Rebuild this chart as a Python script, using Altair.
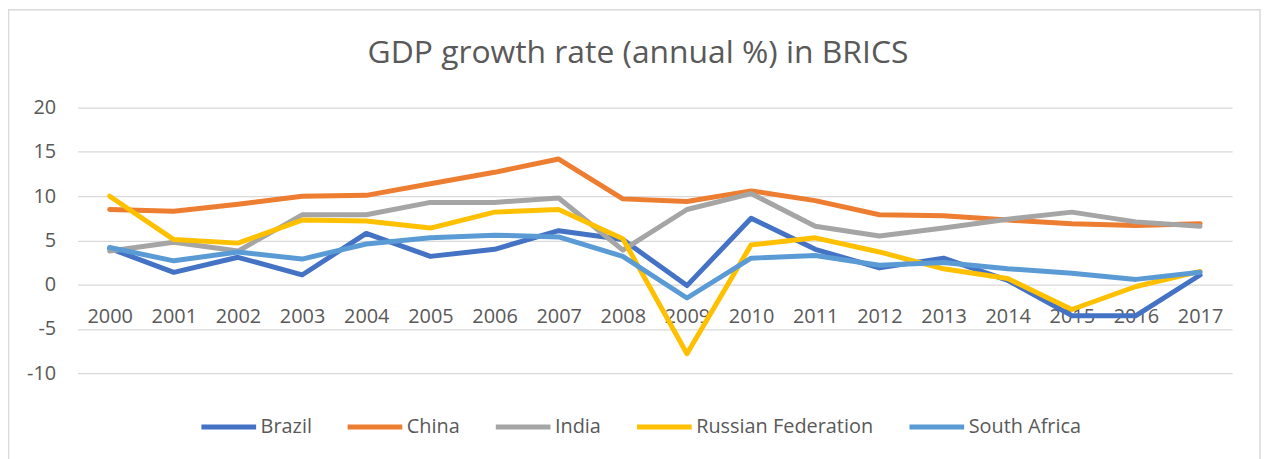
import altair as alt
import pandas as pd

years = [str(y) for y in range(2000, 2018)]
series_names = ["Brazil", "China", "India", "Russian Federation", "South Africa"]
colors = ["#4472C4", "#ED7D31", "#A5A5A5", "#FFC000", "#5B9BD5"]

brazil = [4.1, 1.4, 3.1, 1.1, 5.8, 3.2, 4.0, 6.1, 5.1, -0.1, 7.5, 4.0, 1.9, 3.0, 0.5, -3.5, -3.5, 1.1]
china = [8.5, 8.3, 9.1, 10.0, 10.1, 11.4, 12.7, 14.2, 9.7, 9.4, 10.6, 9.5, 7.9, 7.8, 7.3, 6.9, 6.7, 6.9]
india = [3.8, 4.8, 3.8, 7.9, 7.9, 9.3, 9.3, 9.8, 3.9, 8.5, 10.3, 6.6, 5.5, 6.4, 7.4, 8.2, 7.1, 6.6]
russia = [10.0, 5.1, 4.7, 7.3, 7.2, 6.4, 8.2, 8.5, 5.2, -7.8, 4.5, 5.3, 3.7, 1.8, 0.7, -2.8, -0.2, 1.5]
south_africa = [4.2, 2.7, 3.7, 2.9, 4.6, 5.3, 5.6, 5.4, 3.2, -1.5, 3.0, 3.3, 2.2, 2.5, 1.8, 1.3, 0.6, 1.4]

y_ticks = [-10, -5, 0, 5, 10, 15, 20]

rows = []
for name, vals in zip(series_names, [brazil, china, india, russia, south_africa]):
    for yr, v in zip(years, vals):
        rows.append({"Year": yr, "Value": v, "Series": name})
df = pd.DataFrame(rows)

FONT = "Open Sans"
GREY = "#595959"
W, H = 1161, 267

border = alt.Chart(pd.DataFrame({"b": [0]})).mark_rect(
    fillOpacity=0, stroke="#d9d9d9", strokeWidth=1.5
).encode(
    x=alt.value(-69.5), x2=alt.value(1189), y=alt.value(-98.5), y2=alt.value(360)
)

lines = alt.Chart(df).mark_line(
    strokeWidth=5, strokeCap="round", strokeJoin="round"
).encode(
    x=alt.X(
        "Year:O",
        sort=years,
        scale=alt.Scale(type="point", padding=0.5),
        axis=alt.Axis(
            title=None, labelAngle=0, domain=False, ticks=False, grid=False,
            offset=-89, labelPadding=22, labelFontSize=20, labelColor=GREY,
            labelFont=FONT,
        ),
    ),
    y=alt.Y(
        "Value:Q",
        scale=alt.Scale(domain=[-10, 20], nice=False, zero=False),
        axis=alt.Axis(
            title=None, values=y_ticks, domain=False, ticks=False,
            gridColor="#d9d9d9", gridWidth=1.2, labelPadding=22,
            labelFontSize=20, labelColor=GREY, labelFont=FONT,
            labelExpr="'' + datum.value",
        ),
    ),
    color=alt.Color(
        "Series:N",
        scale=alt.Scale(domain=series_names, range=colors),
        legend=alt.Legend(
            title=None, orient="none", legendX=122, legendY=291,
            direction="horizontal", symbolType="stroke", symbolSize=3025,
            symbolStrokeWidth=5, labelFontSize=20, labelFont=FONT,
            labelColor=GREY, labelOffset=2, columnPadding=25, labelLimit=400,
        ),
    ),
)

chart = alt.layer(border, lines).properties(
    width=W,
    height=H,
    title=alt.Title(
        "GDP growth rate (annual %) in BRICS",
        font=FONT, fontSize=32, color=GREY, fontWeight="normal",
        anchor="middle", frame="group", dx=-17, dy=86, offset=0,
        baseline="alphabetic",
    ),
    padding={"left": 70, "top": 99, "right": 29, "bottom": 85},
    autosize="none",
).configure_view(stroke=None)

chart.save("out.html", embed_options={"renderer": "svg", "actions": False})
